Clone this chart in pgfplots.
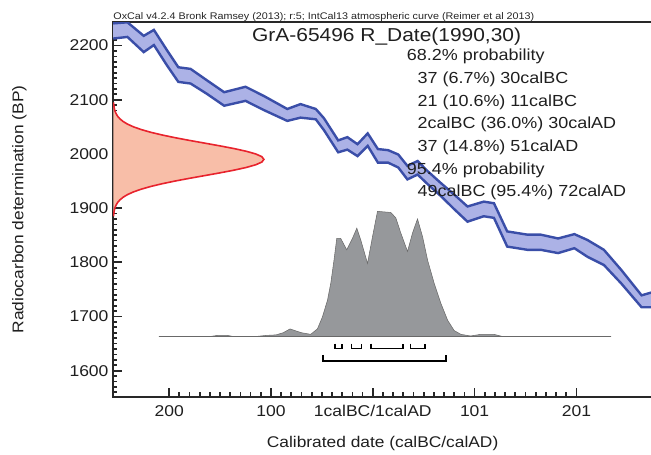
\documentclass[border=0pt]{standalone}
\usepackage{fontspec}
\setmainfont{Liberation Sans}[FakeStretch=1.12]
\usepackage{pgfplots}
\pgfplotsset{compat=1.18}
\usepgfplotslibrary{fillbetween}
\usepackage{pgfplotstable}

\definecolor{bandfill}{RGB}{172,178,230}
\definecolor{bandline}{RGB}{58,78,168}
\definecolor{distfill}{RGB}{248,190,168}
\definecolor{distline}{RGB}{232,35,45}
\definecolor{histfill}{RGB}{150,152,155}
\definecolor{histline}{RGB}{105,105,105}
\definecolor{axisgray}{RGB}{40,40,40}

% IntCal13 calibration band (upper / lower edge)
\pgfplotstableread{
x up lo
-255 2241 2213
-241 2243 2216
-225 2218 2188
-215 2229 2201
-202 2191 2163
-191 2160 2133
-179 2157 2130
-163 2136 2111
-146 2114 2089
-125 2124 2098
-107 2107 2081
-84 2083 2061
-71 2092 2067
-56 2083 2064
-48 2066 2044
-34 2025 2003
-25 2031 2008
-15 2018 1996
-5 2038 2015
5 2009 1984
15 2007 1984
25 1999 1975
34 1978 1953
44 1987 1962
54 1968 1944
67 1946 1922
80 1925 1898
93 1903 1875
109 1912 1885
119 1909 1882
132 1857 1829
152 1851 1823
165 1851 1823
182 1844 1817
198 1852 1826
211 1841 1810
227 1823 1795
244 1786 1761
264 1739 1717
275 1745 1717
}\curve

% radiocarbon measurement 1990 +/- 30 (drawn from the y axis)
\pgfplotstableread{
x y
-254.7 1885
-254.4 1890
-254.0 1895
-253.4 1900
-252.3 1905
-250.8 1910
-248.5 1915
-245.3 1920
-240.9 1925
-235.0 1930
-227.4 1935
-218.1 1940
-206.9 1945
-194.2 1950
-180.1 1955
-165.2 1960
-150.4 1965
-136.5 1970
-124.4 1975
-115.0 1980
-109.0 1985
-107.0 1990
-109.0 1995
-115.0 2000
-124.4 2005
-136.5 2010
-150.4 2015
-165.2 2020
-180.1 2025
-194.2 2030
-206.9 2035
-218.1 2040
-227.4 2045
-235.0 2050
-240.9 2055
-245.3 2060
-248.5 2065
-250.8 2070
-252.3 2075
-253.4 2080
-254.0 2085
-254.4 2090
-254.7 2095
}\dist

% calibrated probability distribution
\pgfplotstableread{
x y
-210.1 1663
-160 1663
-152.7 1665
-142.6 1665
-137 1663
-115 1663
-105 1665
-95 1666
-88 1670
-81.3 1677
-75 1673
-70 1670
-61 1667
-54.4 1677
-49.5 1699
-44.5 1730
-41.3 1761
-38.1 1804
-35.4 1844
-31.5 1844
-25.6 1823
-20 1844
-15.7 1863
-11.8 1841
-5.2 1798
-0.3 1847
4.6 1894
17.7 1892
22.6 1882
27.5 1854
34.1 1820
39 1854
43.9 1880
48.9 1847
53.8 1804
60.3 1761
66.9 1724
73.5 1693
79.9 1674
86.5 1667
96 1664
106 1667
119 1667
127.5 1663
234 1663
}\hist

\begin{document}
\begin{tikzpicture}
\begin{axis}[name=ax, at={(0,0)}, anchor=south west,
  width=403.5pt, height=280.3pt, scale only axis,
  xmin=-255, xmax=274.3, ymin=1552, ymax=2243,
  axis line style={line width=1.4pt, axisgray},
  xtick={-200,-100,0,100,200},
  xticklabels={200,100,1calBC/1calAD,101,201},
  ytick={1600,1700,1800,1900,2000,2100,2200},
  minor x tick num=9,
  minor ytick={1560,1570,...,2240},
  xtick pos=bottom, ytick pos=left,
  xtick align=inside, ytick align=inside,
  major tick length=6.5pt, minor tick length=3.2pt,
  xtick style={axisgray, line width=1.3pt},
  ytick style={axisgray, line width=1.3pt},
  every minor tick/.append style={line width=1pt},
  tick label style={font=\fontsize{11.7}{14}\selectfont, text=black!88},
  xticklabel style={yshift=-3pt},
  /pgf/number format/assume math mode=true,
  /pgf/number format/1000 sep={},
  xlabel={Calibrated date (calBC/calAD)},
  ylabel={Radiocarbon determination (BP)},
  label style={font=\fontsize{11.6}{14}\selectfont, text=black!88},
  xlabel style={at={(axis description cs:0.5,-0.1245)}, anchor=center},
  ylabel style={at={(axis description cs:-0.1742,0.5)}, anchor=center},
]
% calibration band
\addplot[name path=up, draw=none, forget plot] table[x=x,y=up]{\curve};
\addplot[name path=lo, draw=none, forget plot] table[x=x,y=lo]{\curve};
\addplot[bandfill, draw=none] fill between[of=up and lo];
\addplot[bandline, line width=1.8pt] table[x=x,y=up]{\curve};
\addplot[bandline, line width=1.8pt] table[x=x,y=lo]{\curve};
% measurement
\addplot[fill=distfill, draw=none] table[x=x,y=y]{\dist} -- cycle;
\addplot[distline, line width=1.2pt] table[x=x,y=y]{\dist};
% calibrated distribution
\addplot[fill=histfill, draw=histline, line width=0.4pt] table[x=x,y=y]{\hist} -- cycle;
\addplot[histline, line width=0.8pt] coordinates {(-210.1,1663) (234,1663)};
% 68.2% ranges
\addplot[black, line width=1.3pt] coordinates {(-37,1650) (-37,1641) (-30,1641) (-30,1650)};
\addplot[black, line width=1.3pt] coordinates {(-21,1650) (-21,1641) (-11,1641) (-11,1650)};
\addplot[black, line width=1.3pt] coordinates {(-2,1650) (-2,1641) (30,1641) (30,1650)};
\addplot[black, line width=1.3pt] coordinates {(37,1650) (37,1641) (51,1641) (51,1650)};
% 95.4% range
\addplot[black, line width=1.3pt] coordinates {(-49,1629) (-49,1618) (72,1618) (72,1629)};
\end{axis}
\node[anchor=base west, inner sep=0, font=\fontsize{7.2}{8}\selectfont, text=black!85]
  at ([yshift=1.8pt]ax.north west)
  {OxCal v4.2.4 Bronk Ramsey (2013); r:5; IntCal13 atmospheric curve (Reimer et al 2013)};
\node[anchor=base, inner sep=0, font=\fontsize{14}{17}\selectfont, text=black!88]
  at ([xshift=204.75pt, yshift=-14.6pt]ax.north west) {GrA-65496 R\_Date(1990,30)};
\begin{scope}[every node/.style={anchor=base west, inner sep=0, font=\fontsize{12}{14}\selectfont, text=black!88}]
\node at ([xshift=219.75pt, yshift=-28.8pt]ax.north west) {68.2\% probability};
\node at ([xshift=227.8pt, yshift=-45.8pt]ax.north west) {37 (6.7\%) 30calBC};
\node at ([xshift=227.8pt, yshift=-62.8pt]ax.north west) {21 (10.6\%) 11calBC};
\node at ([xshift=227.8pt, yshift=-79.8pt]ax.north west) {2calBC (36.0\%) 30calAD};
\node at ([xshift=227.8pt, yshift=-96.8pt]ax.north west) {37 (14.8\%) 51calAD};
\node at ([xshift=219.75pt, yshift=-113.8pt]ax.north west) {95.4\% probability};
\node at ([xshift=227.8pt, yshift=-130.8pt]ax.north west) {49calBC (95.4\%) 72calAD};
\end{scope}
\pgfresetboundingbox
\path[use as bounding box] (-84.75pt,-43.5pt) rectangle (402.7pt,297pt);
\end{tikzpicture}
\end{document}
